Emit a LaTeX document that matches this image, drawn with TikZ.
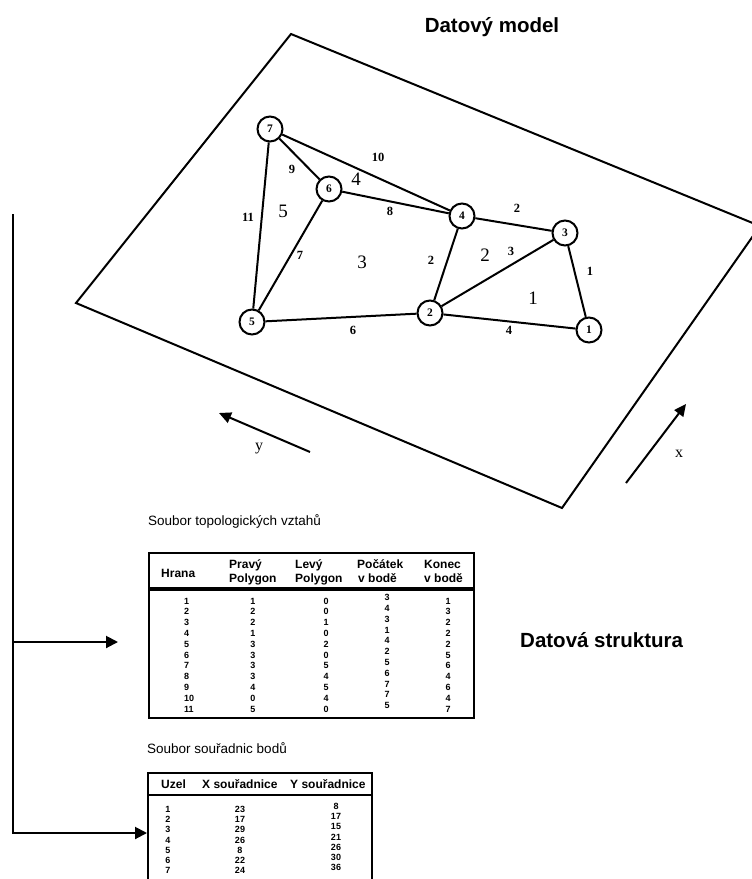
\documentclass[tikz,border=0pt]{standalone}
\usepackage{fontspec}
\setmainfont{Liberation Serif}
\setsansfont{Liberation Sans}
\usetikzlibrary{arrows.meta}
\begin{document}
\begin{tikzpicture}[x=1pt,y=-1pt,
  plane/.style={line width=2pt,line join=miter},
  gedge/.style={line width=2pt},
  vertex/.style={circle,draw,line width=2pt,minimum size=25pt,inner sep=0pt,fill=white,font=\bfseries\fontsize{11.5}{11.5}\selectfont},
  elab/.style={inner sep=0pt,font=\bfseries\fontsize{12.5}{12.5}\selectfont},
  flab/.style={inner sep=0pt,font=\fontsize{19}{19}\selectfont},
  axlab/.style={inner sep=0pt,font=\fontsize{16}{16}\selectfont},
  titl/.style={inner sep=0pt,font=\sffamily\bfseries\fontsize{20.5}{20.5}\selectfont},
  capt/.style={inner sep=0pt,anchor=base west,font=\sffamily\fontsize{13.5}{13.5}\selectfont},
  head/.style={inner sep=0pt,anchor=base west,font=\sffamily\bfseries\fontsize{12}{12}\selectfont},
  dat/.style={inner sep=0pt,font=\sffamily\bfseries\fontsize{9}{9}\selectfont},
  arr/.style={line width=2pt,line join=miter,-{Triangle[length=12pt,width=12pt]}},
  tbl/.style={line width=2pt,line join=miter},
]
\fill[white] (0,0) rectangle (752,879);
\useasboundingbox (0,0) rectangle (752,879);
\clip (0,0) rectangle (752,879);

% titles
\node[titl,anchor=base] (t1) at (492,32) {Datový model};
\node[titl,anchor=base west] (t2) at (520,647) {Datová struktura};

% plane
\draw[plane] (291,34) -- (760,226) -- (562,508) -- (76,303) -- cycle;

% vertices
\node[vertex] (n7) at (270,129) {7};
\node[vertex] (n6) at (329,189) {6};
\node[vertex] (n4) at (462,216) {4};
\node[vertex] (n3) at (565,233) {3};
\node[vertex] (n5) at (252,322) {5};
\node[vertex] (n2) at (430,313) {2};
\node[vertex] (n1) at (589,330) {1};

% edges
\draw[gedge] (n7) -- (n6);
\draw[gedge] (n7) -- (n4);
\draw[gedge] (n7) -- (n5);
\draw[gedge] (n6) -- (n4);
\draw[gedge] (n6) -- (n5);
\draw[gedge] (n4) -- (n3);
\draw[gedge] (n4) -- (n2);
\draw[gedge] (n3) -- (n2);
\draw[gedge] (n3) -- (n1);
\draw[gedge] (n5) -- (n2);
\draw[gedge] (n2) -- (n1);

% edge labels
\node[elab] (e10) at (378,157) {10};
\node[elab] (e9) at (292,169) {9};
\node[elab] (e11) at (248,217) {11};
\node[elab] (e8) at (390,211) {8};
\node[elab] (e2a) at (517,208) {2};
\node[elab] (e7) at (300,255) {7};
\node[elab] (e2b) at (431,260) {2};
\node[elab] (e3) at (511,251) {3};
\node[elab] (e1) at (590,271) {1};
\node[elab] (e6) at (353,330) {6};
\node[elab] (e4) at (509,330) {4};

% face labels
\node[flab] (f4) at (356,179) {4};
\node[flab] (f5) at (283,211) {5};
\node[flab] (f3) at (362,262) {3};
\node[flab] (f2) at (485,255) {2};
\node[flab] (f1) at (533,298) {1};

% axis arrows
\coordinate (ys) at (310,452);
\coordinate (ye) at (219,413);
\draw[arr,-{Triangle[length=12pt,width=11pt]}] (ys) -- (ye);
\node[axlab] (ly) at (259,449) {y};
\coordinate (xs) at (626,483);
\coordinate (xe) at (686,404);
\draw[arr,-{Triangle[length=12pt,width=11pt]}] (xs) -- (xe);
\node[axlab] (lx) at (679,454) {x};

% left bracket
\coordinate (vtop) at (13,214);
\coordinate (vj) at (13,642);
\coordinate (vbot) at (13,833);
\coordinate (a1) at (118,642);
\coordinate (a2) at (147,833);
\draw[arr] (vtop) -- (vbot) -- (a2);
\draw[arr] (vj) -- (a1);

% table 1
\node[capt] (c1) at (148,525) {Soubor topologických vztahů};
\draw[tbl] (149,553) rectangle (474,718);
\draw[line width=3.2pt] (149,589) -- (474,589);
\node[head] (hh) at (161,577) {Hrana};
\node[head] (hp1) at (229,568) {Pravý};
\node[head] (hp2) at (229,582) {Polygon};
\node[head] (hl1) at (295,568) {Levý};
\node[head] (hl2) at (295,582) {Polygon};
\node[head] (hs1) at (357,568) {Počátek};
\node[head] (hs2) at (358,582) {v bodě};
\node[head] (hk1) at (424,568) {Konec};
\node[head] (hk2) at (424,582) {v bodě};
\foreach \h/\p/\l/\s/\k [count=\i from 0] in {1/1/0/3/1,2/2/0/4/3,3/2/1/3/2,4/1/0/1/2,5/3/2/4/2,6/3/0/2/5,7/3/5/5/6,8/3/4/6/4,9/4/5/7/6,10/0/4/7/4,11/5/0/5/7}{
  \node[dat,anchor=west] (dh\i) at (184,{601+10.8*\i}) {\h};
  \node[dat] (dp\i) at (253,{601+10.8*\i}) {\p};
  \node[dat] (dl\i) at (326,{601+10.8*\i}) {\l};
  \node[dat] (ds\i) at (387,{597.5+10.8*\i}) {\s};
  \node[dat] (dk\i) at (448,{601+10.8*\i}) {\k};
}

% table 2
\node[capt] (c2) at (147,753) {Soubor souřadnic bodů};
\draw[tbl] (148,900) -- (148,773) -- (372,773) -- (372,900);
\draw[line width=2.7pt] (148,795) -- (372,795);
\node[head] (u1) at (161,788) {Uzel};
\node[head] (u2) at (202,788) {X souřadnice};
\node[head] (u3) at (290,788) {Y souřadnice};
\foreach \u/\xx/\yy [count=\i from 0] in {1/23/8,2/17/17,3/29/15,4/26/21,5/8/26,6/22/30,7/24/36}{
  \node[dat] (du\i) at (168,{809+10.3*\i}) {\u};
  \node[dat] (dx\i) at (240,{809+10.3*\i}) {\xx};
  \node[dat] (dy\i) at (336,{806+10.3*\i}) {\yy};
}
\end{tikzpicture}
\end{document}
